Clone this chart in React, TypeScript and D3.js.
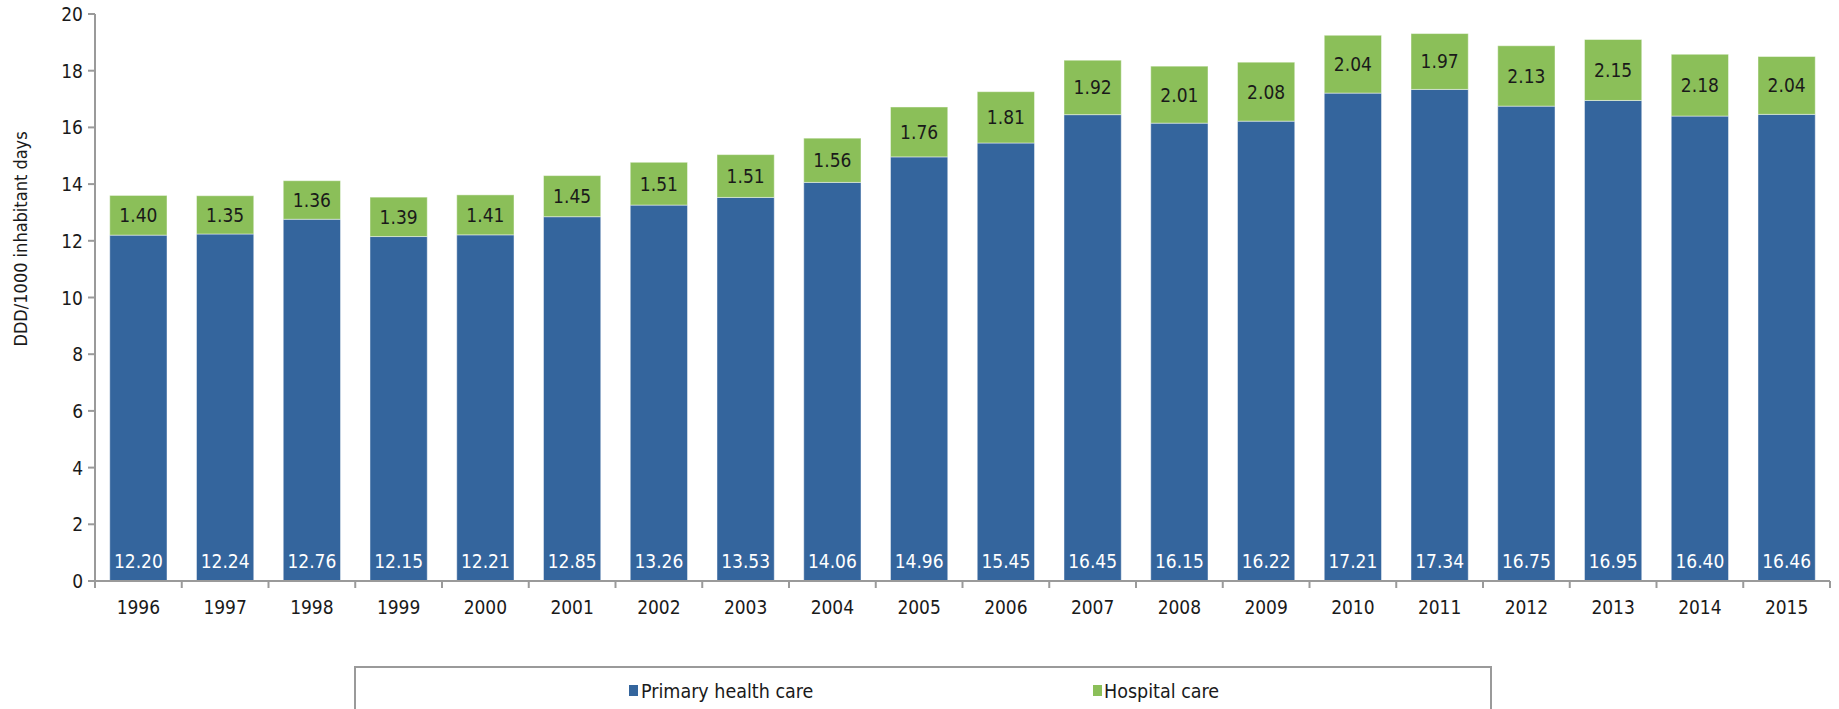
import React from "react";
import * as d3 from "d3";

const years = ["1996","1997","1998","1999","2000","2001","2002","2003","2004","2005","2006","2007","2008","2009","2010","2011","2012","2013","2014","2015"];
const primary = [12.20,12.24,12.76,12.15,12.21,12.85,13.26,13.53,14.06,14.96,15.45,16.45,16.15,16.22,17.21,17.34,16.75,16.95,16.40,16.46];
const hospital = [1.40,1.35,1.36,1.39,1.41,1.45,1.51,1.51,1.56,1.76,1.81,1.92,2.01,2.08,2.04,1.97,2.13,2.15,2.18,2.04];
const yTicks = [0,2,4,6,8,10,12,14,16,18,20];
const seriesNames = ["Primary health care","Hospital care"];

const BLUE = "#34659d";
const GREEN = "#8bbf59";
const AXIS = "#9a9a9a";
const FONT = "'DejaVu Sans Condensed', 'DejaVu Sans', sans-serif";

export default function App() {
  const W = 1839, H = 709;
  const left = 95, right = 1830, top = 14, bottom = 581;
  const x = d3.scaleBand<string>().domain(years).range([left, right]).paddingInner(0.34).paddingOuter(0.17);
  const xb = d3.scaleBand<string>().domain(years).range([left, right]);
  const y = d3.scaleLinear().domain([0, 20]).range([bottom, top]);
  const fmt = d3.format(".2f");

  return (
    <svg width={W} height={H} style={{ position: "absolute", left: 0, top: 0 }} fontFamily={FONT}>
      <rect x={0} y={0} width={W} height={H} fill="#fff" />
      {years.map((yr, i) => {
        const x0 = x(yr)!;
        const bw = x.bandwidth();
        const p = primary[i], h = hospital[i];
        return (
          <g key={yr}>
            <rect x={x0} y={y(p)} width={bw} height={y(0) - y(p)} fill={BLUE} stroke="#ffffff" strokeOpacity={0.45} strokeWidth={1} />
            <rect x={x0} y={y(p + h)} width={bw} height={y(p) - y(p + h)} fill={GREEN} stroke="#ffffff" strokeOpacity={0.45} strokeWidth={1} />
            <text x={x0 + bw / 2} y={(y(p) + y(p + h)) / 2 + 7} textAnchor="middle" fontSize={19} fill="#1a1a1a">{fmt(h)}</text>
            <text x={x0 + bw / 2} y={568} textAnchor="middle" fontSize={19} fill="#ffffff">{fmt(p)}</text>
          </g>
        );
      })}
      {/* y axis */}
      <line x1={left} x2={left} y1={top} y2={bottom} stroke={AXIS} strokeWidth={2} />
      {yTicks.map(t => (
        <g key={t}>
          <line x1={left - 7} x2={left} y1={y(t)} y2={y(t)} stroke={AXIS} strokeWidth={2} />
          <text x={left - 12} y={y(t) + 7} textAnchor="end" fontSize={19} fill="#1a1a1a">{t}</text>
        </g>
      ))}
      {/* x axis */}
      <line x1={left} x2={right} y1={bottom} y2={bottom} stroke={AXIS} strokeWidth={2} />
      {years.map(yr => (
        <line key={"t" + yr} x1={xb(yr)!} x2={xb(yr)!} y1={bottom} y2={bottom + 7} stroke={AXIS} strokeWidth={2} />
      ))}
      <line x1={right} x2={right} y1={bottom} y2={bottom + 7} stroke={AXIS} strokeWidth={2} />
      {years.map(yr => (
        <text key={"l" + yr} x={xb(yr)! + xb.bandwidth() / 2} y={614} textAnchor="middle" fontSize={19} fill="#1a1a1a">{yr}</text>
      ))}
      <text transform={`translate(27,239) rotate(-90)`} textAnchor="middle" fontSize={18} fill="#1a1a1a">DDD/1000 inhabitant days</text>
      {/* legend */}
      <rect x={355} y={667} width={1136} height={60} fill="#fff" stroke={AXIS} strokeWidth={2} />
      <rect x={629} y={685} width={9} height={11} fill={BLUE} />
      <text x={641} y={698} fontSize={19.5} fill="#1a1a1a">{seriesNames[0]}</text>
      <rect x={1093} y={685} width={9} height={11} fill={GREEN} />
      <text x={1104} y={698} fontSize={19.5} fill="#1a1a1a">{seriesNames[1]}</text>
    </svg>
  );
}
